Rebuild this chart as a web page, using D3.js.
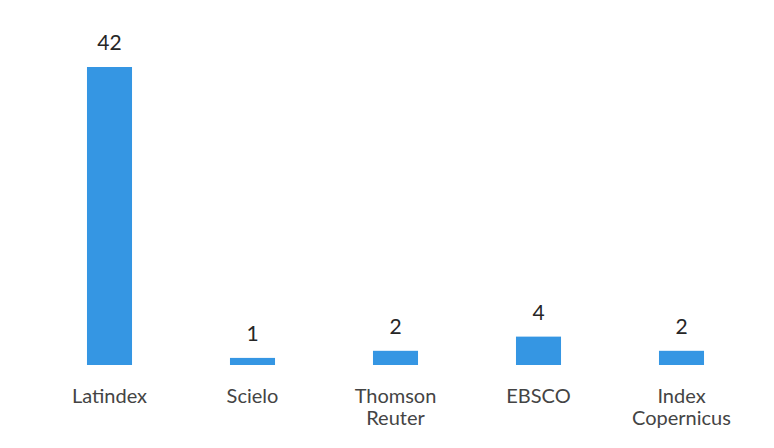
<!DOCTYPE html>
<html>
<head>
<meta charset="utf-8">
<script src="https://cdn.jsdelivr.net/npm/d3@7"></script>
<style>
  html, body { margin: 0; padding: 0; background: #ffffff; }
  svg { display: block; }
  .value { font-family: Lato, "Open Sans", sans-serif; font-size: 21px; fill: #262626; }
  .cat { font-family: Lato, "Open Sans", sans-serif; font-size: 20px; fill: #444; }
</style>
</head>
<body>
<div id="chart"></div>
<script>
// Indexing databases and number of entries
const categories = ['Latindex', 'Scielo', 'Thomson Reuter', 'EBSCO', 'Index Copernicus'];
const categoryLines = [['Latindex'], ['Scielo'], ['Thomson', 'Reuter'], ['EBSCO'], ['Index', 'Copernicus']];
const values = [42, 1, 2, 4, 2];

const width = 774, height = 448;
const baseY = 365, topY = 67;

const svg = d3.select('#chart')
    .append('svg')
    .attr('width', width)
    .attr('height', height);

svg.append('rect')
    .attr('width', width)
    .attr('height', height)
    .attr('fill', '#ffffff');

const x = d3.scaleBand()
    .domain(categories)
    .range([38, 753])
    .paddingInner(0.685)
    .paddingOuter(0.3425);

const y = d3.scaleLinear()
    .domain([0, 42])
    .range([baseY, topY]);

// Bars
svg.append('g')
    .selectAll('rect')
    .data(values)
    .join('rect')
    .attr('x', (d, i) => x(categories[i]))
    .attr('y', d => y(d))
    .attr('width', x.bandwidth())
    .attr('height', d => baseY - y(d))
    .attr('fill', '#3596e3');

// Value labels
svg.append('g')
    .selectAll('text')
    .data(values)
    .join('text')
    .attr('class', 'value')
    .attr('x', (d, i) => x(categories[i]) + x.bandwidth() / 2)
    .attr('y', d => y(d) - 17)
    .attr('text-anchor', 'middle')
    .text(d => d);

// Category labels
const cats = svg.append('g')
    .selectAll('text')
    .data(categories)
    .join('text')
    .attr('class', 'cat')
    .attr('x', d => x(d) + x.bandwidth() / 2)
    .attr('y', 403)
    .attr('text-anchor', 'middle');

cats.selectAll('tspan')
    .data((d, i) => categoryLines[i])
    .join('tspan')
    .attr('x', function() { return d3.select(this.parentNode).attr('x'); })
    .attr('dy', (d, j) => j === 0 ? 0 : 22)
    .text(d => d);
</script>
</body>
</html>
